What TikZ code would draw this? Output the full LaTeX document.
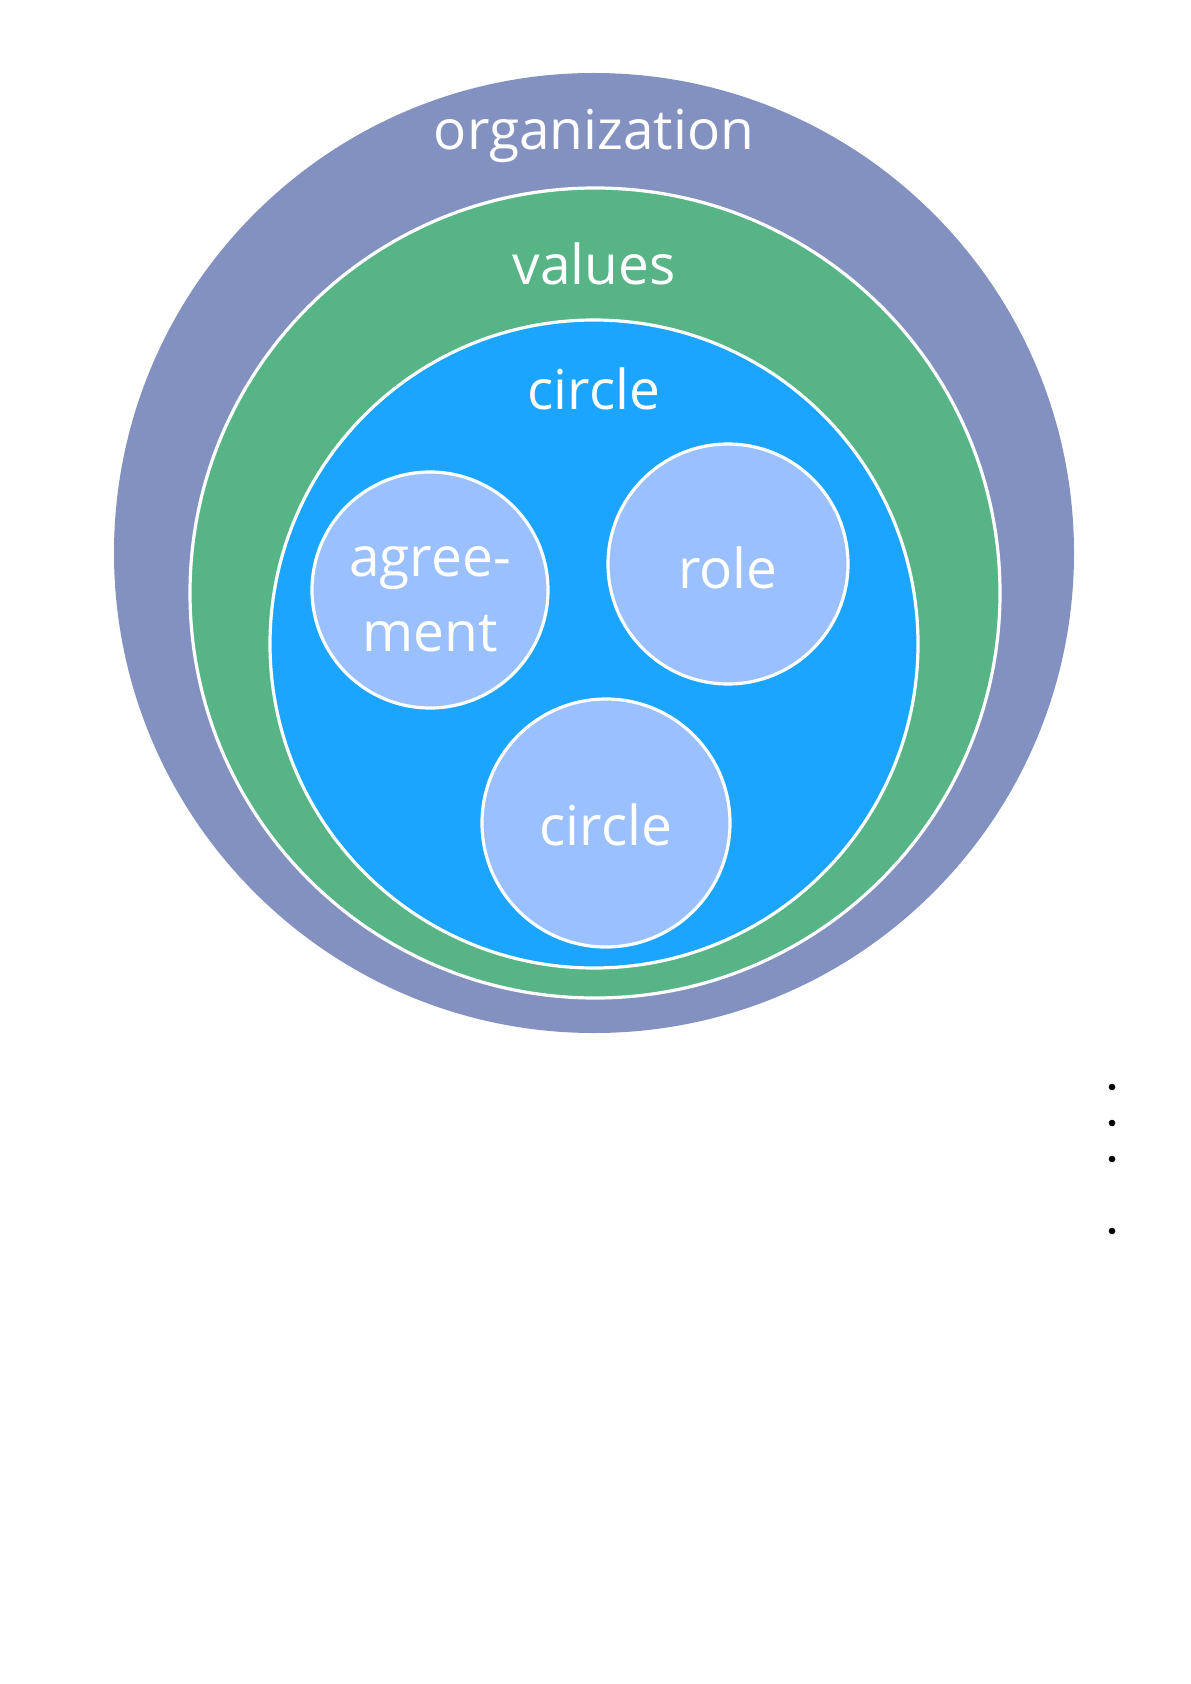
\documentclass[tikz,border=0pt]{standalone}
\usepackage{fontspec}
\setmainfont{Open Sans}
\usepackage{xcolor}
\usepackage{tikz}

\definecolor{orgblue}{RGB}{131,145,192}
\definecolor{valgreen}{RGB}{86,180,134}
\definecolor{circblue}{RGB}{27,165,255}
\definecolor{partblue}{RGB}{155,192,255}

\begin{document}
\begin{tikzpicture}[
    x=0.5pt, y=-0.5pt,
    ring/.style={
        circle,
        inner sep=0pt,
        outer sep=0pt
    },
    bordered/.style={
        ring,
        draw=white,
        line width=1.6pt
    },
    part/.style={
        bordered,
        fill=partblue
    },
    parttext/.style={
        align=center,
        text=white,
        inner sep=0pt,
        font=\fontsize{27.5}{37.5}\selectfont
    },
    caption/.style={
        anchor=base,
        text=white,
        inner sep=0pt,
        font=\fontsize{27.5}{37.5}\selectfont
    },
    dot/.style={
        circle,
        fill=black,
        inner sep=0pt,
        minimum size=3.3pt
    }
]

\useasboundingbox (0,0) rectangle (1190,1684);

\node[ring, fill=orgblue, minimum size=480pt] (org) at (594,553) {};
\node[bordered, fill=valgreen, minimum size=405pt] (values) at (595,593) {};
\node[bordered, fill=circblue, minimum size=324pt] (circ) at (594,644) {};

\node[caption] (orglabel) at (594,150) {organization};
\node[caption] (valueslabel) at (594,285) {values};
\node[caption] (circlabel) at (594,409) {circle};

\node[part, minimum size=118pt] (agreement) at (430,590) {};
\node[part, minimum size=120pt] (role) at (728,564) {};
\node[part, minimum size=124pt] (subcirc) at (606,823) {};

\node[parttext] (agreementtext) at ([yshift=-4.5pt]agreement.center) {agree-\\ment};
\node[parttext] (roletext) at ([yshift=-2pt]role.center) {role};
\node[parttext] (subcirctext) at ([yshift=-1pt]subcirc.center) {circle};

\node[dot] (dot1) at (1112,1087) {};
\node[dot] (dot2) at (1112,1123) {};
\node[dot] (dot3) at (1112,1159) {};
\node[dot] (dot4) at (1112,1231) {};

\end{tikzpicture}
\end{document}
